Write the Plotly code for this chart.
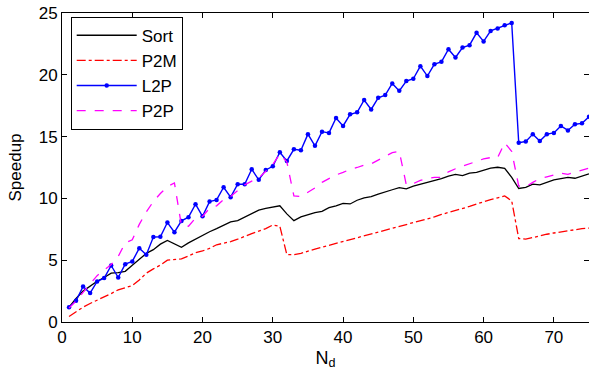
import plotly.graph_objects as go

nd = list(range(1, 76))

sort_vals = [1.2, 1.9, 2.5, 2.9, 3.3, 3.6, 3.95, 4.0, 4.1, 4.6,
             5.1, 5.55, 5.85, 6.3, 6.6, 6.35, 6.05, 6.4, 6.7, 7.05,
             7.3, 7.55, 7.85, 8.1, 8.2, 8.5, 8.8, 9.05, 9.2, 9.3,
             9.4, 8.75, 8.2, 8.5, 8.7, 8.85, 8.95, 9.25, 9.4, 9.6,
             9.55, 9.85, 10.05, 10.15, 10.35, 10.55, 10.7, 10.87, 10.77, 11.0,
             11.15, 11.3, 11.41, 11.6, 11.8, 11.95, 11.85, 12.05, 12.1, 12.3,
             12.45, 12.52, 12.44, 11.7, 10.8, 10.9, 11.15, 11.1, 11.3, 11.5,
             11.6, 11.7, 11.63, 11.8, 11.98]

p2m_vals = [0.45, 0.85, 1.2, 1.5, 1.75, 2.0, 2.3, 2.6, 2.8, 2.95,
            3.4, 3.95, 4.3, 4.6, 5.0, 5.05, 5.1, 5.35, 5.6, 5.75,
            5.95, 6.25, 6.35, 6.5, 6.7, 6.95, 7.15, 7.35, 7.55, 7.85,
            7.75, 5.45, 5.45, 5.55, 5.75, 5.9, 6.05, 6.2, 6.35, 6.5,
            6.65, 6.85, 7.0, 7.15, 7.3, 7.45, 7.6, 7.75, 7.9, 8.05,
            8.2, 8.35, 8.5, 8.7, 8.85, 9.0, 9.15, 9.35, 9.55, 9.75,
            9.9, 10.05, 10.2, 9.8, 6.75, 6.7, 6.85, 7.0, 7.1, 7.2,
            7.3, 7.4, 7.45, 7.55, 7.6]

l2p_vals = [1.2, 1.72, 2.88, 2.34, 3.28, 3.55, 4.57, 3.6, 4.68, 4.9,
            5.97, 5.44, 6.87, 6.9, 8.05, 7.27, 8.18, 8.48, 9.53, 8.55,
            9.74, 9.88, 10.9, 10.1, 11.15, 11.15, 12.36, 11.5, 12.3, 12.6,
            13.73, 13.03, 13.97, 13.9, 15.2, 14.25, 15.4, 15.3, 16.5, 15.86,
            16.8, 16.96, 17.96, 17.2, 18.14, 18.36, 19.3, 18.7, 19.5, 19.68,
            20.7, 19.9, 20.86, 21.05, 22.07, 21.4, 22.2, 22.4, 23.4, 22.7,
            23.55, 23.75, 24.0, 24.2, 14.5, 14.6, 15.2, 14.65, 15.2, 15.3,
            15.86, 15.5, 16.0, 16.07, 16.6]

p2p_vals = [1.13, 1.7, 2.4, 3.1, 3.75, 4.2, 4.65, 5.3, 6.4, 6.65,
            7.9, 8.9, 9.75, 10.4, 10.95, 11.25, 7.8, 7.75, 8.4, 8.55,
            9.2, 9.4, 9.9, 10.15, 10.6, 11.1, 11.4, 11.65, 12.2, 12.75,
            13.6, 12.95, 10.2, 10.15, 10.5, 10.85, 11.3, 11.6, 11.9, 12.1,
            12.35, 12.5, 12.7, 12.8, 13.1, 13.4, 13.7, 13.8, 11.1, 11.2,
            11.45, 11.6, 11.7, 11.7, 12.15, 12.4, 12.6, 12.85, 13.05, 13.2,
            13.3, 13.3, 14.5, 13.8, 11.0, 10.95, 11.3, 11.6, 11.75, 11.9,
            12.05, 11.95, 12.1, 12.3, 12.45]

x_ticks = [0, 10, 20, 30, 40, 50, 60, 70]
y_ticks = [0, 5, 10, 15, 20, 25]

FONT = "Liberation Sans, Arial, Helvetica, sans-serif"

fig = go.Figure()
fig.add_trace(go.Scatter(x=nd, y=sort_vals, name="Sort", mode="lines",
                         line=dict(color="black", width=1.3)))
fig.add_trace(go.Scatter(x=nd, y=p2m_vals, name="P2M", mode="lines",
                         line=dict(color="red", width=1.3, dash="dashdot")))
fig.add_trace(go.Scatter(x=nd, y=l2p_vals, name="L2P", mode="lines+markers",
                         line=dict(color="#0000ff", width=1.4),
                         marker=dict(color="#0000ff", size=4.5)))
fig.add_trace(go.Scatter(x=nd, y=p2p_vals, name="P2P", mode="lines",
                         line=dict(color="magenta", width=1.3, dash="dash")))

axis_common = dict(showgrid=False, zeroline=False, showline=True, linecolor="black",
                   linewidth=1, mirror="ticks", ticks="inside", ticklen=5,
                   tickcolor="black", automargin=False, ticklabeloverflow="allow",
                   tickfont=dict(family=FONT, size=17, color="black"))

fig.update_xaxes(range=[0, 75], tickvals=x_ticks,
                 title=dict(text="N<sub>d</sub>", font=dict(family=FONT, size=18, color="black"), standoff=4),
                 **axis_common)
fig.update_yaxes(range=[0, 25], tickvals=y_ticks,
                 title=dict(text="Speedup", font=dict(family=FONT, size=17, color="black"), standoff=12),
                 **axis_common)

fig.update_layout(
    width=589, height=377,
    margin=dict(l=62, r=0, t=13, b=55, autoexpand=False),
    plot_bgcolor="white", paper_bgcolor="white",
    font=dict(family=FONT, color="black"),
    legend=dict(x=0.0165, y=0.988, xanchor="left", yanchor="top",
                bordercolor="black", borderwidth=1, bgcolor="white",
                font=dict(family=FONT, size=17, color="black"),
                itemwidth=60, tracegroupgap=0),
)

# remove the default 8px page margin so the figure sits at the window's top-left corner
fig.write_html("out.html", config={"displayModeBar": False},
               post_script="document.body.style.margin='0px';")
